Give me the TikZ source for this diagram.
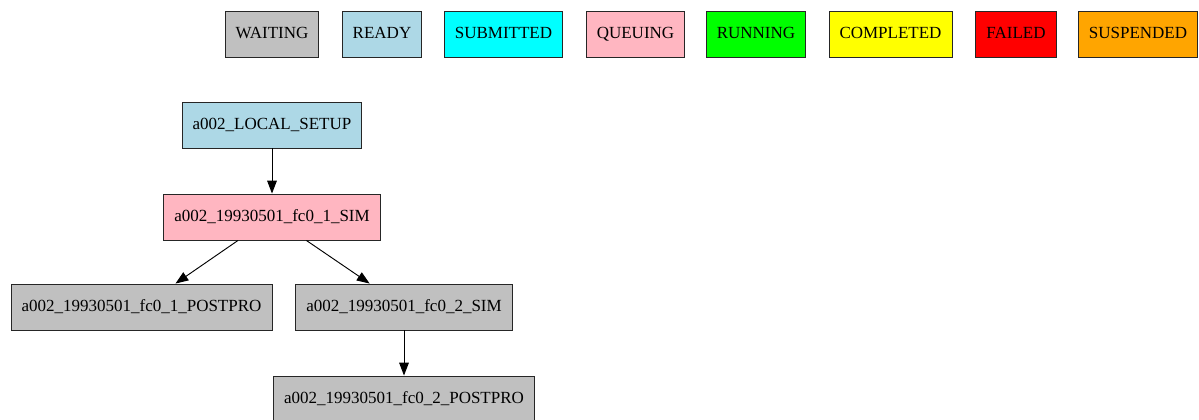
\documentclass[tikz,border=0pt]{standalone}
\usepackage{fontspec}
\setmainfont{Liberation Serif}
\usepackage{tikz}
\usetikzlibrary{positioning, arrows.meta}

\definecolor{waitgray}{HTML}{C0C0C0}
\definecolor{readyblue}{HTML}{ADD8E6}
\definecolor{subcyan}{HTML}{00FFFF}
\definecolor{queuepink}{HTML}{FFB6C1}
\definecolor{rungreen}{HTML}{00FF00}
\definecolor{doneyellow}{HTML}{FFFF00}
\definecolor{failred}{HTML}{FF0000}
\definecolor{susporange}{HTML}{FFA500}

\tikzset{
  job/.style={draw=black!85, line width=0.7pt, rectangle, minimum height=34.5pt,
    inner xsep=7.9pt, inner ysep=0pt, text height=8.5pt, text depth=2.5pt,
    font=\fontsize{12.75}{15}\selectfont},
  dep/.style={-{Triangle[length=9.6pt, width=7.2pt]}, line width=0.7pt, black}
}

\begin{document}
\begin{tikzpicture}[x=0.75pt, y=-0.75pt]
    \useasboundingbox (0,0) rectangle (1199,419);
    % Legend
    \foreach \state/\col/\x in {WAITING/waitgray/272, READY/readyblue/382,
        SUBMITTED/subcyan/503.5, QUEUING/queuepink/635.5, RUNNING/rungreen/756,
        COMPLETED/doneyellow/890.5, FAILED/failred/1016, SUSPENDED/susporange/1138}
      \node [job, fill=\col] (key-\state) at (\x,34) {\state};
    % Jobs
    \node [job, fill=readyblue] (setup) at (272,125) {a002\_LOCAL\_SETUP};
    \node [job, fill=queuepink] (sim1) at (272,217) {a002\_19930501\_fc0\_1\_SIM};
    \node [job, fill=waitgray] (post1) at (141.5,307) {a002\_19930501\_fc0\_1\_POSTPRO};
    \node [job, fill=waitgray] (sim2) at (404,307) {a002\_19930501\_fc0\_2\_SIM};
    \node [job, fill=waitgray] (post2) at (404,399) {a002\_19930501\_fc0\_2\_POSTPRO};
    % Dependencies
    \draw [dep] (setup) -- (sim1);
    \draw [dep] (sim1) -- (post1);
    \draw [dep] (sim1) -- (sim2);
    \draw [dep] (sim2) -- (post2);
\end{tikzpicture}
\end{document}
